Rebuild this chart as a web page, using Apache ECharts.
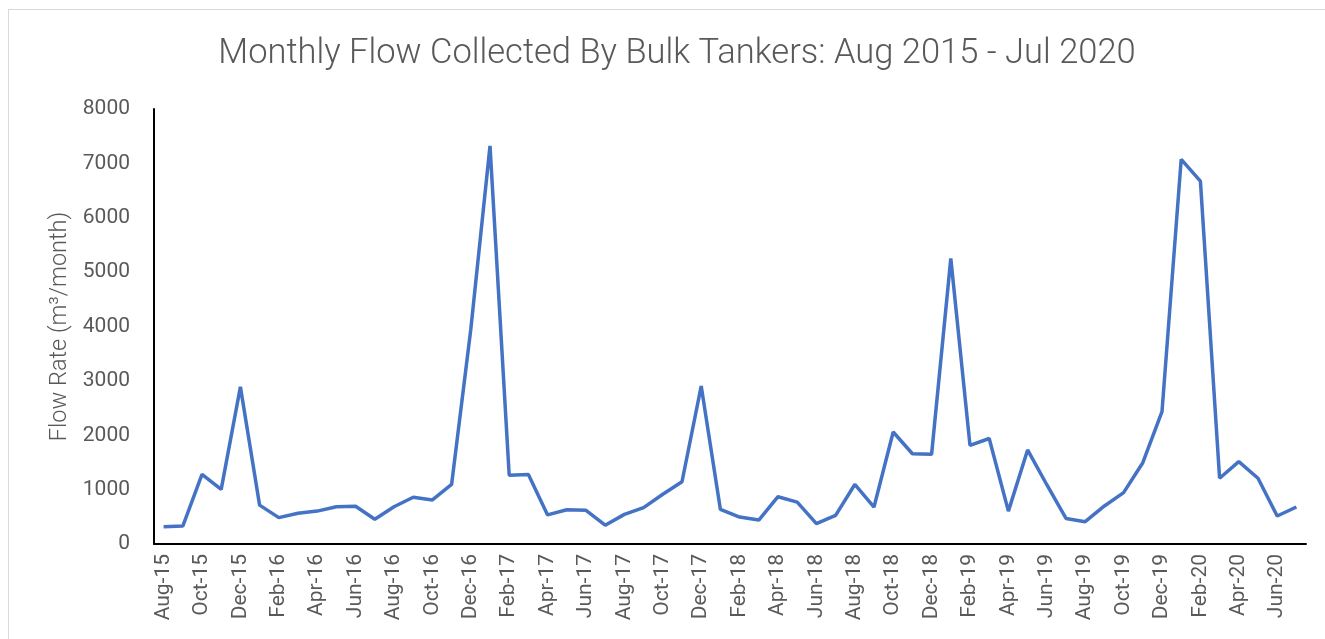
<!DOCTYPE html>
<html>
<head>
<meta charset="utf-8">
<script src="https://cdn.jsdelivr.net/npm/echarts@6/dist/echarts.min.js"></script>
<style>
    html, body { margin: 0; padding: 0; background: #fff; }
    .frame {
        position: absolute;
        left: 8px;
        top: 9px;
        width: 1400px;
        height: 700px;
        border-left: 1px solid #d9d9d9;
        border-top: 1px solid #d9d9d9;
    }
    #flowLine {
        position: absolute;
        left: 0;
        top: 0;
        width: 1325px;
        height: 639px;
    }
</style>
</head>
<body>
<div class="frame"></div>
<div id="flowLine"></div>
<script>
    const months = [
        'Aug-15', 'Sep-15', 'Oct-15', 'Nov-15', 'Dec-15',
        'Jan-16', 'Feb-16', 'Mar-16', 'Apr-16', 'May-16', 'Jun-16', 'Jul-16',
        'Aug-16', 'Sep-16', 'Oct-16', 'Nov-16', 'Dec-16',
        'Jan-17', 'Feb-17', 'Mar-17', 'Apr-17', 'May-17', 'Jun-17', 'Jul-17',
        'Aug-17', 'Sep-17', 'Oct-17', 'Nov-17', 'Dec-17',
        'Jan-18', 'Feb-18', 'Mar-18', 'Apr-18', 'May-18', 'Jun-18', 'Jul-18',
        'Aug-18', 'Sep-18', 'Oct-18', 'Nov-18', 'Dec-18',
        'Jan-19', 'Feb-19', 'Mar-19', 'Apr-19', 'May-19', 'Jun-19', 'Jul-19',
        'Aug-19', 'Sep-19', 'Oct-19', 'Nov-19', 'Dec-19',
        'Jan-20', 'Feb-20', 'Mar-20', 'Apr-20', 'May-20', 'Jun-20', 'Jul-20'
    ];

    // m3 per month
    const flow = [
        315, 330, 1280, 1005, 2890,
        715, 485, 565, 605, 685, 695, 455,
        685, 860, 810, 1095, 3950,
        7320, 1265, 1280, 535, 630, 620, 345,
        545, 670, 915, 1145, 2905,
        635, 495, 440, 870, 770, 375, 525,
        1095, 680, 2060, 1660, 1650,
        5250, 1815, 1940, 605, 1730, 1090, 470,
        410, 700, 945, 1495, 2435,
        7075, 6675, 1210, 1515, 1210, 515, 680
    ];

    const yTicks = { min: 0, max: 8000, interval: 1000 };

    const textGrey = '#595959';
    const fontName = 'Roboto';

    const chart = echarts.init(document.getElementById('flowLine'));

    chart.setOption({
        animation: false,
        title: {
            text: 'Monthly Flow Collected By Bulk Tankers: Aug 2015 - Jul 2020',
            left: 672,
            top: 32,
            textAlign: 'center',
            textStyle: {
                color: textGrey,
                fontFamily: fontName,
                fontWeight: 300,
                fontSize: 34.5
            }
        },
        grid: {
            left: 154,
            right: 19,
            top: 109,
            bottom: 95
        },
        xAxis: {
            type: 'category',
            boundaryGap: true,
            data: months,
            axisLine: {
                show: true,
                lineStyle: { color: '#000', width: 2 }
            },
            axisTick: { show: false },
            axisLabel: {
                interval: 1,
                rotate: 90,
                margin: 10,
                color: textGrey,
                fontFamily: fontName,
                fontSize: 21
            }
        },
        yAxis: {
            type: 'value',
            min: yTicks.min,
            max: yTicks.max,
            interval: yTicks.interval,
            name: 'Flow Rate (m³/month)',
            nameLocation: 'middle',
            nameGap: 80,
            nameTextStyle: {
                color: textGrey,
                fontFamily: fontName,
                fontWeight: 300,
                fontSize: 23.5
            },
            axisLine: {
                show: true,
                lineStyle: { color: '#000', width: 2 }
            },
            axisTick: { show: false },
            splitLine: { show: false },
            axisLabel: {
                margin: 24,
                color: textGrey,
                fontFamily: fontName,
                fontSize: 21,
                formatter: function (v) {
                    return String(v);
                }
            }
        },
        series: [
            {
                name: 'Flow',
                type: 'line',
                data: flow,
                showSymbol: false,
                symbol: 'none',
                lineStyle: { color: '#4472C4', width: 3.5 }
            }
        ]
    });

    window.addEventListener('resize', chart.resize);
</script>
</body>
</html>
